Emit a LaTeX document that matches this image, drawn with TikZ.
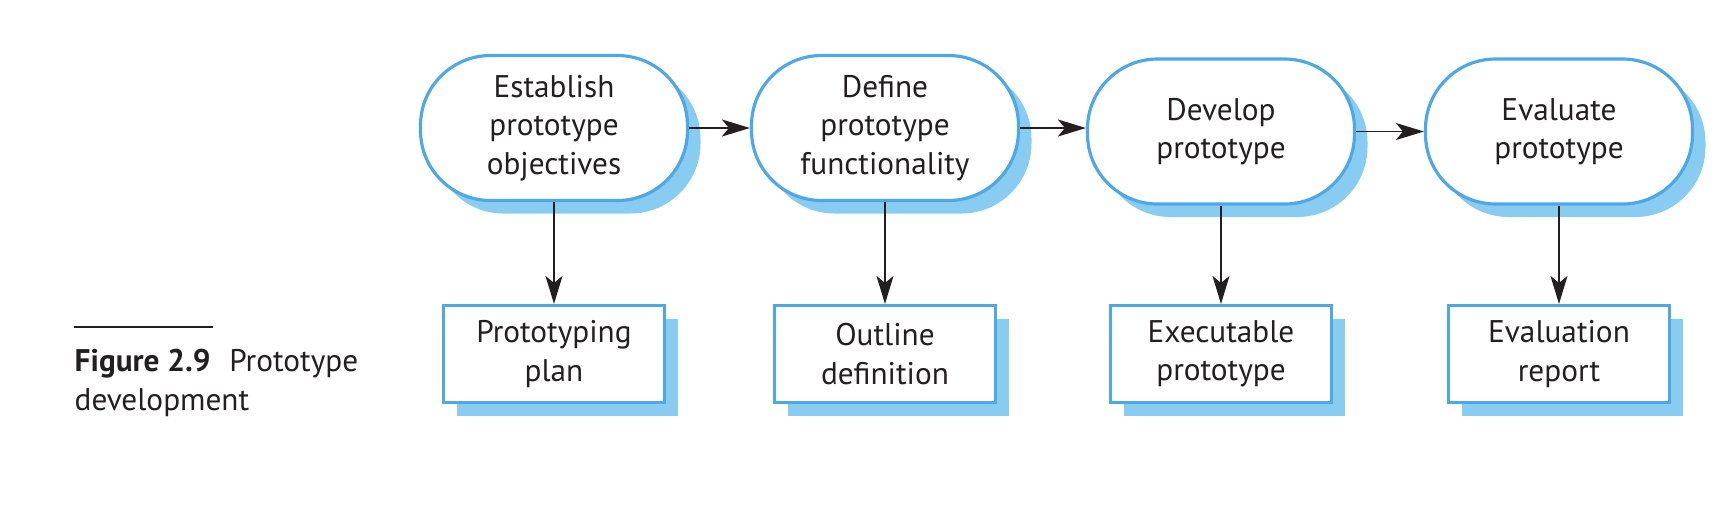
\documentclass[tikz,border=0pt]{standalone}
\usepackage{fontspec}
\setmainfont{PT Sans}
\usetikzlibrary{arrows.meta,shadows}
\definecolor{stageblue}{RGB}{78,167,230}
\definecolor{shadeblue}{RGB}{137,204,242}
\definecolor{inkgrey}{RGB}{35,31,32}

\begin{document}
\begin{tikzpicture}[
            every node/.append style={text=inkgrey,inner sep=0pt,align=center,
                font=\fontsize{8.9pt}{10.9pt}\selectfont},
            blueshade/.style={drop shadow={shadow xshift=0.13cm,shadow yshift=-0.13cm,
                fill=shadeblue,opacity=1}},
            stage/.style={draw=stageblue,line width=0.9pt,fill=white,blueshade,
                rounded corners=0.7cm,minimum width=2.67cm,minimum height=1.45cm},
            output/.style={draw=stageblue,line width=0.9pt,fill=white,blueshade,
                minimum width=2.21cm,minimum height=0.97cm},
            flow/.style={draw=inkgrey,line width=0.45pt,
                -{Stealth[length=0.28cm,width=0.17cm,inset=0.07cm]}}
        ]
            \useasboundingbox (0,0) rectangle (17.28,-5.04);
            % activities
            \node[stage] (e1) at (5.54,-1.28) {Establish\\prototype\\objectives};
            \node[stage] (e2) at (8.85,-1.28) {Define\\prototype\\functionality};
            \node[stage] (e3) at (12.21,-1.315) {Develop\\prototype};
            \node[stage] (e4) at (15.59,-1.315) {Evaluate\\prototype};
            % deliverables
            \node[output] (b1) at (5.54,-3.54) {Prototyping\\plan};
            \node[output] (b2) at (8.85,-3.54) {Outline\\definition};
            \node[output] (b3) at (12.21,-3.54) {Executable\\prototype};
            \node[output] (b4) at (15.59,-3.54) {Evaluation\\report};
            \draw[flow] (e1) -- (e2);
            \draw[flow] (e2.east) -- (e2.east -| e3.west);
            \draw[flow] (e3) -- (e4);
            \foreach \i in {1,...,4}
                \draw[flow] (e\i) -- (b\i);
            % caption
            \draw[inkgrey,line width=0.4pt] (0.74,-3.27) -- (2.13,-3.27);
            \node[anchor=base west,align=left] (cap) at (0.74,-4.10)
                {\textbf{Figure 2.9}\hspace{0.6em}Prototype\\development};
        \end{tikzpicture}
\end{document}
